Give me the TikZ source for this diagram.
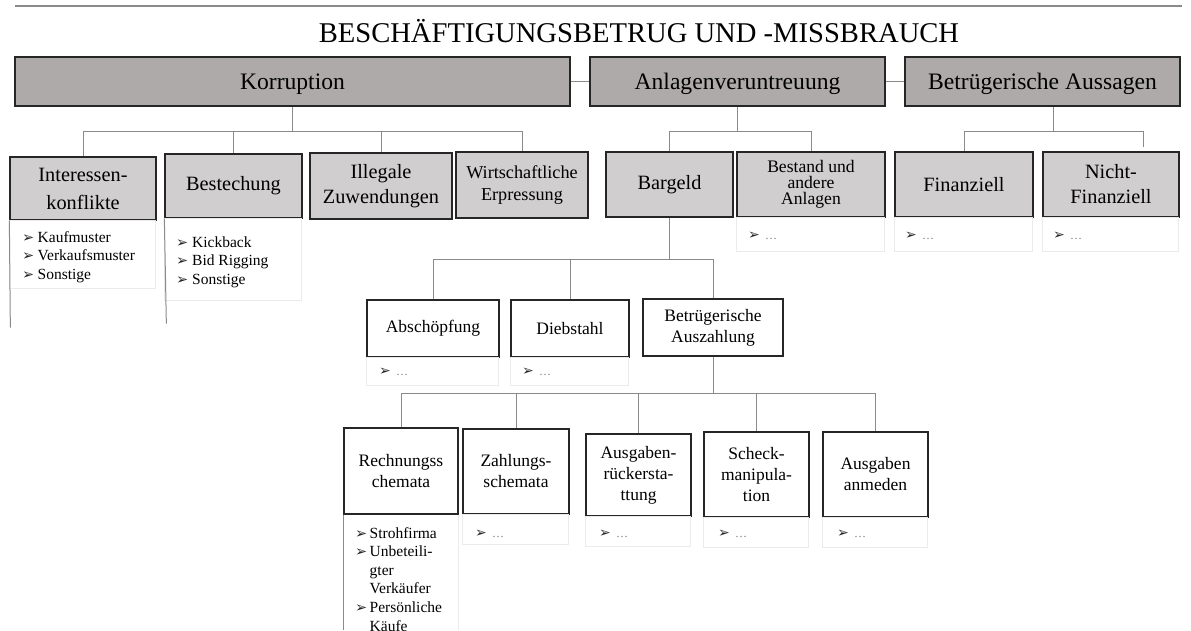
\documentclass[tikz,border=0pt]{standalone}
\usepackage{fontspec}
\setmainfont{Liberation Serif}
\newfontfamily\dvfont{DejaVu Sans}
\usetikzlibrary{calc}
\definecolor{topfill}{HTML}{AEAAAA}
\definecolor{subfill}{HTML}{D0CECE}
\definecolor{edge}{HTML}{262626}
\definecolor{linkgray}{HTML}{8A8A8A}
\definecolor{faint}{HTML}{EBEBEB}
\definecolor{dots}{HTML}{7A7A7A}
% bullet marks: #1 is the room kept for the bullet before the text
\newcommand\arr[1]{\makebox[#1][l]{{\dvfont\fontsize{14.5}{14.5}\selectfont\color{edge}➢}}}
\newcommand\more{\makebox[17pt][l]{{\dvfont\fontsize{14}{14}\selectfont\color{edge}➢}}{\color{dots}\fontsize{12}{12}\selectfont …}}
\begin{document}
\begin{tikzpicture}[x=1pt,y=-1pt,
  box/.style={draw=edge, line width=1.3pt, inner sep=0pt, align=center, anchor=center},
  topbox/.style={box, fill=topfill, text depth=0pt, font=\fontsize{23.6}{28}\selectfont},
  subbox/.style={box, fill=subfill, font=\fontsize{20.3}{28}\selectfont},
  leafbox/.style={box, fill=white, font=\fontsize{17.5}{21}\selectfont},
  conn/.style={draw=linkgray, line width=1pt},
  rule/.style={draw=linkgray, line width=1.2pt},
  listbox/.style={draw=faint, line width=0.8pt},
  items/.style={anchor=base west, inner sep=0pt, align=left, font=\fontsize{15.5}{18.6}\selectfont},
  stub/.style={anchor=base west, inner sep=0pt}]
\useasboundingbox (0,0) rectangle (1191,630);

% heading
\coordinate (ruleL) at (15,6);
\coordinate (ruleR) at (1182,6);
\draw[rule] (ruleL) -- (ruleR);
\node[anchor=base, inner sep=0pt, font=\fontsize{28.6}{32}\selectfont] (title) at (639,42) {BESCHÄFTIGUNGSBETRUG UND -MISSBRAUCH};

% main categories
\node[topbox, minimum width=555pt, minimum height=49pt] (korr) at (292.5,81.5) {Korruption};
\node[topbox, minimum width=295pt, minimum height=49pt] (anl) at (737.5,81.5) {Anlagenveruntreuung};
\node[topbox, minimum width=275pt, minimum height=49pt] (betr) at (1042.5,81.5) {Betrügerische Aussagen};
\draw[conn] (korr.east) -- (anl.west);
\draw[conn] (anl.east) -- (betr.west);

% second level
\node[subbox, minimum width=146pt, minimum height=63pt] (inter) at (83,188.5) {Interessen-\\konflikte};
\node[subbox, minimum width=137pt, minimum height=64pt] (best) at (233.5,186) {Bestechung};
\node[subbox, minimum width=142pt, minimum height=66pt, font=\fontsize{20.3}{25}\selectfont] (illeg) at (381,186) {Illegale\\Zuwendungen};
\node[subbox, minimum width=132pt, minimum height=66pt, font=\fontsize{18.2}{22}\selectfont] (wirt) at (522,185) {Wirtschaftliche\\Erpressung};
\node[subbox, minimum width=127pt, minimum height=65pt] (barg) at (669.5,184.5) {Bargeld};
\node[subbox, minimum width=148pt, minimum height=65pt, font=\fontsize{17.6}{16}\selectfont] (bestand) at (811,184.5) {Bestand und\\andere\\Anlagen};
\node[subbox, minimum width=138pt, minimum height=65pt] (fin) at (964,184.5) {Finanziell};
\node[subbox, minimum width=136pt, minimum height=65pt, font=\fontsize{20.3}{25}\selectfont] (nicht) at (1111,184.5) {Nicht-\\Finanziell};

% links below the main categories
\coordinate (kbar) at (0,131);
\draw[conn] (korr.south) -- (korr.south |- kbar);
\draw[conn] (inter.north) -- (inter.north |- kbar) -- (wirt.north |- kbar) -- (wirt.north);
\draw[conn] (best.north) -- (best.north |- kbar);
\draw[conn] (illeg.north) -- (illeg.north |- kbar);
\draw[conn] (anl.south) -- (anl.south |- kbar);
\draw[conn] (barg.north) -- (barg.north |- kbar) -- (bestand.north |- kbar) -- (bestand.north);
\coordinate (betrlink) at ($(betr.south)+(11,0)$);
\coordinate (nichtlink) at ($(nicht.north)+(32,-4)$);
\draw[conn] (betrlink) -- (betrlink |- kbar);
\draw[conn] (fin.north) -- (fin.north |- kbar) -- (nichtlink |- kbar) -- (nichtlink);

% lists under the second level
\draw[listbox] (inter.south west) rectangle ++(146,68);
\draw[listbox] (best.south west) rectangle ++(137,82);
\draw[conn] (inter.south west) -- ++(1,107);
\draw[conn] (best.south west) -- ++(2,105);
\node[items] (interlist) at (22,242) {\begin{tabular}[t]{@{}l@{}l@{}}\arr{15.5pt} & Kaufmuster\\ \arr{15.5pt} & Verkaufsmuster\\ \arr{15.5pt} & Sonstige\end{tabular}};
\node[items] (bestlist) at (176,247) {\begin{tabular}[t]{@{}l@{}l@{}}\arr{16pt} & Kickback\\ \arr{16pt} & Bid Rigging\\ \arr{16pt} & Sonstige\end{tabular}};
\draw[listbox] (bestand.south west) rectangle ++(148,34);
\draw[listbox] (fin.south west) rectangle ++(138,34);
\draw[listbox] (nicht.south west) rectangle ++(136,34);
\node[stub] (bestandmore) at (748,239) {\more};
\node[stub] (finmore) at (905,239) {\more};
\node[stub] (nichtmore) at (1053,239) {\more};

% cash schemes
\node[leafbox, minimum width=132pt, minimum height=57pt] (absch) at (433,328.5) {Abschöpfung};
\node[leafbox, minimum width=118pt, minimum height=57pt] (dieb) at (570,328.5) {Diebstahl};
\node[leafbox, minimum width=140pt, minimum height=57pt] (auszahl) at (713,327.5) {Betrügerische\\Auszahlung};
\coordinate (gbar) at (0,259);
\draw[conn] (barg.south) -- (barg.south |- gbar);
\draw[conn] (absch.north) -- (absch.north |- gbar) -- (auszahl.north |- gbar) -- (auszahl.north);
\draw[conn] (dieb.north) -- (dieb.north |- gbar);
\draw[listbox] (absch.south west) rectangle ++(132,28);
\draw[listbox] (dieb.south west) rectangle ++(118,28);
\node[stub] (abschmore) at (379,375) {\more};
\node[stub] (diebmore) at (522,375) {\more};

% fraudulent disbursements
\node[leafbox, minimum width=114pt, minimum height=86pt] (rech) at (401,471) {Rechnungss\\chemata};
\node[leafbox, minimum width=106pt, minimum height=85pt] (zahl) at (516,471.5) {Zahlungs-\\schemata};
\node[leafbox, minimum width=105pt, minimum height=82pt] (ausg) at (638.5,475) {Ausgaben-\\rückersta-\\ttung};
\node[leafbox, minimum width=105pt, minimum height=85pt] (scheck) at (756.5,474.5) {Scheck-\\manipula-\\tion};
\node[leafbox, minimum width=105pt, minimum height=85pt] (anmed) at (875.5,474.5) {Ausgaben\\anmeden};
\coordinate (zbar) at (0,393);
\draw[conn] (auszahl.south) -- (auszahl.south |- zbar);
\draw[conn] (rech.north) -- (rech.north |- zbar) -- (anmed.north |- zbar) -- (anmed.north);
\draw[conn] (zahl.north) -- (zahl.north |- zbar);
\draw[conn] (ausg.north) -- (ausg.north |- zbar);
\draw[conn] (scheck.north) -- (scheck.north |- zbar);

\coordinate (pagefoot) at (0,630);
\draw[conn] (rech.south west) -- (rech.south west |- pagefoot);
\draw[listbox] (rech.south east) -- (rech.south east |- pagefoot);
\node[items] (rechlist) at (355,538) {\begin{tabular}[t]{@{}l@{}l@{}}\arr{14.5pt} & Strohfirma\\ \arr{14.5pt} & Unbeteili-\\ & gter\\ & Verkäufer\\ \arr{14.5pt} & Persönliche\\ & Käufe\end{tabular}};
\draw[listbox] (zahl.south west) rectangle ++(106,30);
\draw[listbox] (ausg.south west) rectangle ++(105,30);
\draw[listbox] (scheck.south west) rectangle ++(105,30);
\draw[listbox] (anmed.south west) rectangle ++(105,30);
\node[stub] (zahlmore) at (475,537) {\more};
\node[stub] (ausgmore) at (599,537) {\more};
\node[stub] (scheckmore) at (718,537) {\more};
\node[stub] (anmedmore) at (837,537) {\more};
\end{tikzpicture}
\end{document}
